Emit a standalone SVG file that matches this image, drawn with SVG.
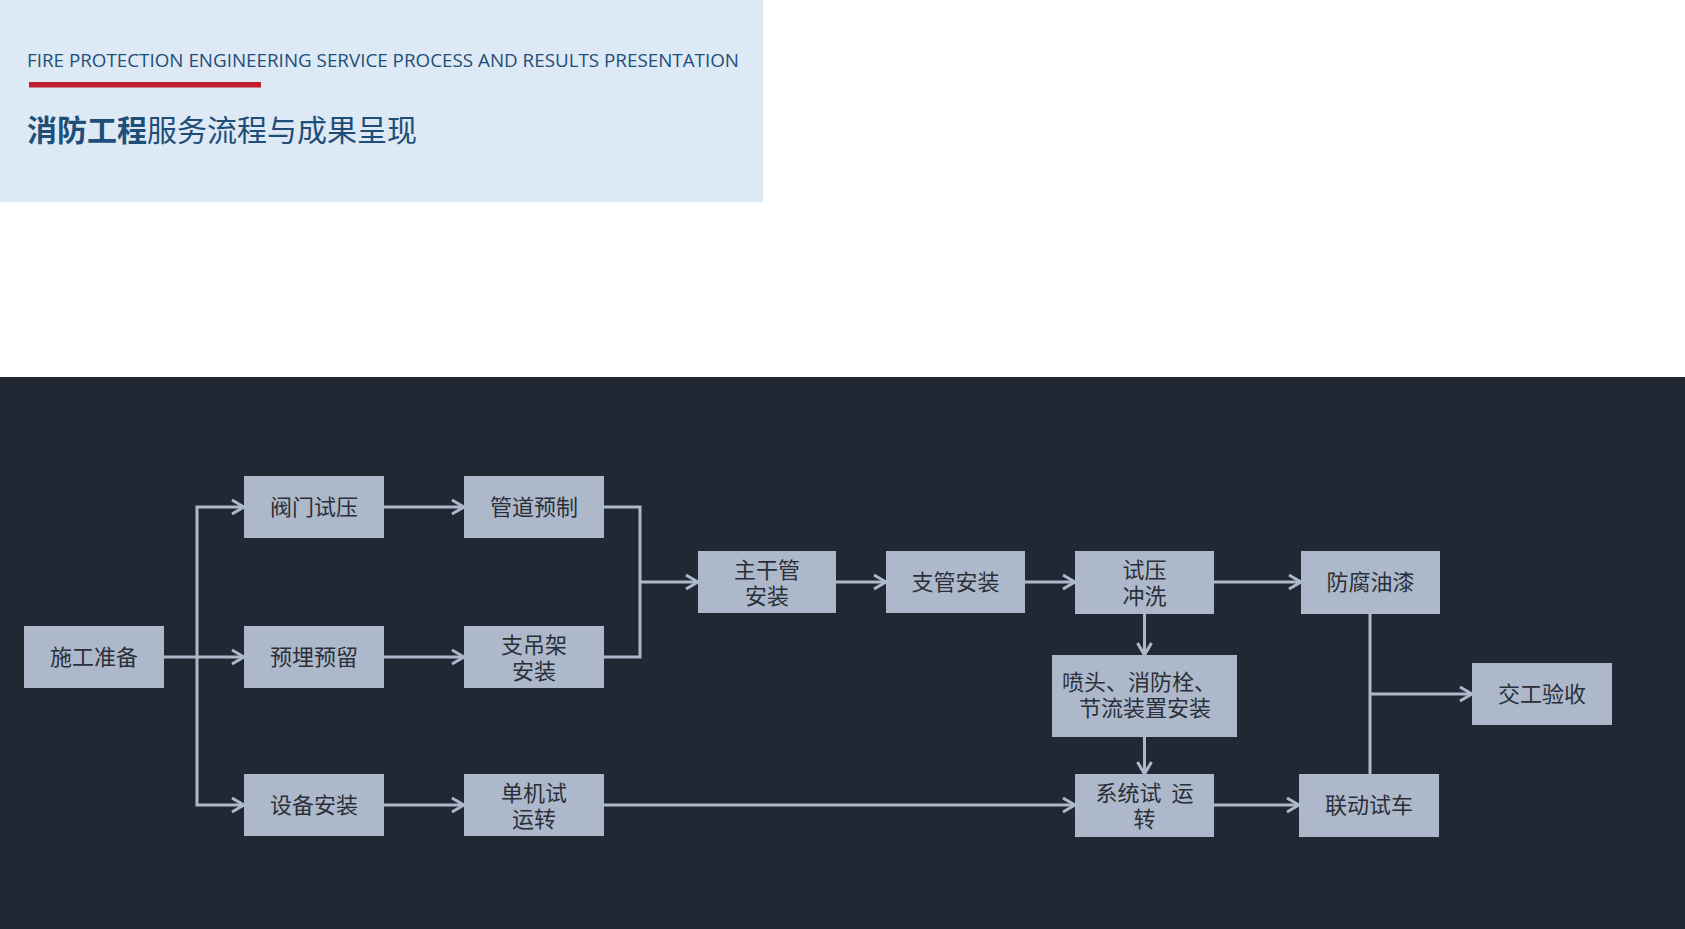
<svg xmlns="http://www.w3.org/2000/svg" width="1685" height="929" viewBox="0 0 1685 929">
<defs>
<style>
.box{fill:#adb9cb;}
.t{font-family:"Noto Sans CJK SC","Noto Sans",sans-serif;font-size:22px;fill:#2a2f38;text-anchor:middle;}
.c{fill:none;stroke:#adb9cb;stroke-width:3;}
.a{marker-end:url(#arr);}
</style>
<marker id="arr" markerUnits="userSpaceOnUse" markerWidth="16" markerHeight="18" viewBox="0 0 16 18" refX="14" refY="9" orient="auto">
<path d="M2,2 L14,9 L2,16" fill="none" stroke="#adb9cb" stroke-width="3"/>
</marker>
</defs>
<rect x="0" y="0" width="1685" height="929" fill="#ffffff"/>
<rect x="0" y="0" width="763" height="202" fill="#dde9f5"/>
<text x="27" y="67" font-family="'Open Sans','Noto Sans',sans-serif" font-size="18.5" fill="#1f4e79" textLength="712" lengthAdjust="spacingAndGlyphs">FIRE PROTECTION ENGINEERING SERVICE PROCESS AND RESULTS PRESENTATION</text>
<rect x="29" y="82" width="232" height="5.5" fill="#be1e2d"/>
<text x="27" y="141" font-family="'Noto Sans CJK SC',sans-serif" font-size="30" fill="#1f4e79"><tspan font-weight="bold">消防工程</tspan>服务流程与成果呈现</text>
<rect x="0" y="377" width="1685" height="552" fill="#212833"/>

<g id="connectors">
<path class="c a" d="M164,657 H244"/>
<path class="c a" d="M197,657 V507 H244"/>
<path class="c a" d="M197,657 V805 H244"/>
<path class="c a" d="M384,507 H464"/>
<path class="c a" d="M384,657 H464"/>
<path class="c a" d="M384,805 H464"/>
<path class="c" d="M604,507 H640 V657 H604"/>
<path class="c a" d="M640,582 H698"/>
<path class="c a" d="M836,582 H886"/>
<path class="c a" d="M1025,582 H1075"/>
<path class="c a" d="M1214,582 H1301"/>
<path class="c a" d="M1144.5,614 V655"/>
<path class="c a" d="M1144.5,737 V774"/>
<path class="c a" d="M604,805 H1075"/>
<path class="c a" d="M1214,805 H1299"/>
<path class="c" d="M1370,614 V774"/>
<path class="c a" d="M1370,694 H1472"/>
</g>

<g id="n1"><rect class="box" x="24" y="626" width="140" height="62"/><text class="t" x="94" y="665">施工准备</text></g>
<g id="n2"><rect class="box" x="244" y="476" width="140" height="62"/><text class="t" x="314" y="515">阀门试压</text></g>
<g id="n3"><rect class="box" x="244" y="626" width="140" height="62"/><text class="t" x="314" y="665">预埋预留</text></g>
<g id="n4"><rect class="box" x="244" y="774" width="140" height="62"/><text class="t" x="314" y="813">设备安装</text></g>
<g id="n5"><rect class="box" x="464" y="476" width="140" height="62"/><text class="t" x="534" y="515">管道预制</text></g>
<g id="n6"><rect class="box" x="464" y="626" width="140" height="62"/><text class="t"><tspan x="534" y="653">支吊架</tspan><tspan x="534" y="679">安装</tspan></text></g>
<g id="n7"><rect class="box" x="464" y="774" width="140" height="62"/><text class="t"><tspan x="534" y="801">单机试</tspan><tspan x="534" y="827">运转</tspan></text></g>
<g id="n8"><rect class="box" x="698" y="551" width="138" height="62"/><text class="t"><tspan x="767" y="578">主干管</tspan><tspan x="767" y="604">安装</tspan></text></g>
<g id="n9"><rect class="box" x="886" y="551" width="139" height="62"/><text class="t" x="955.5" y="590">支管安装</text></g>
<g id="n10"><rect class="box" x="1075" y="551" width="139" height="63"/><text class="t"><tspan x="1144.5" y="578">试压</tspan><tspan x="1144.5" y="604">冲洗</tspan></text></g>
<g id="n11"><rect class="box" x="1301" y="551" width="139" height="63"/><text class="t" x="1370.5" y="590">防腐油漆</text></g>
<g id="n12"><rect class="box" x="1052" y="655" width="185" height="82"/><text class="t"><tspan x="1139" y="690">喷头、消防栓、</tspan><tspan x="1145" y="716">节流装置安装</tspan></text></g>
<g id="n13"><rect class="box" x="1075" y="774" width="139" height="63"/><text class="t" xml:space="preserve"><tspan x="1144.5" y="801">系统试  运</tspan><tspan x="1144.5" y="827">转</tspan></text></g>
<g id="n14"><rect class="box" x="1299" y="774" width="140" height="63"/><text class="t" x="1369" y="813">联动试车</text></g>
<g id="n15"><rect class="box" x="1472" y="663" width="140" height="62"/><text class="t" x="1542" y="702">交工验收</text></g>
</svg>
